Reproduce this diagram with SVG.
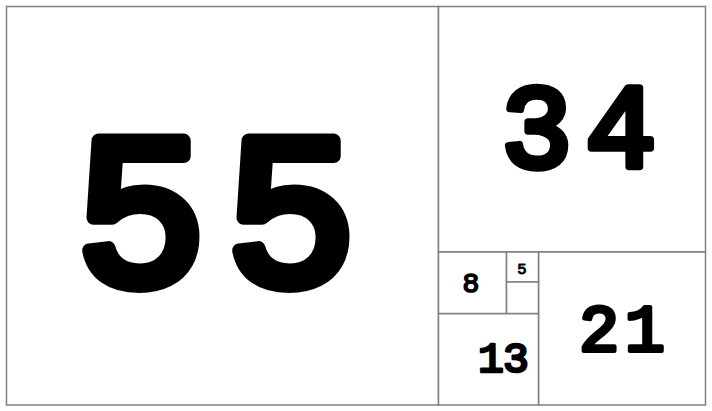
<svg xmlns="http://www.w3.org/2000/svg" width="712" height="411" viewBox="0 0 712 411">
<style>
.box{fill:#fff;stroke:#808080;stroke-width:1.5}
.num{font-family:"Liberation Mono",monospace;font-weight:normal;fill:#000;stroke:#000;stroke-linejoin:round;stroke-linecap:round;text-anchor:middle}
</style>
<rect x="0" y="0" width="712" height="411" fill="#fff"/>
<g id="n55"><rect class="box" x="6.5" y="6.5" width="432" height="398.5"/>
<text class="num" x="141 291" y="284" font-size="218" stroke-width="14">55</text></g>
<g id="n34"><rect class="box" x="438.5" y="6.5" width="267" height="245.5"/>
<text class="num" x="536.7 620.8" y="167" font-size="118" stroke-width="7.5">34</text></g>
<g id="n21"><rect class="box" x="538.5" y="252" width="167" height="153"/>
<text class="num" x="599.2 644.8" y="351" font-size="67" stroke-width="4.2">21</text></g>
<g id="n13"><rect class="box" x="438.5" y="313.5" width="100" height="91.5"/>
<text class="num" x="490.8 515.8" y="371.5" font-size="43" stroke-width="2.7">13</text></g>
<g id="n8"><rect class="box" x="438.5" y="252" width="68" height="61.5"/>
<text class="num" x="471" y="291.5" font-size="28" stroke-width="1.7">8</text></g>
<g id="n5"><rect class="box" x="506.5" y="252" width="32" height="30"/>
<text class="num" x="522" y="273.8" font-size="15.5" stroke-width="1">5</text></g>
<g id="n3"><rect class="box" x="506.5" y="282" width="32" height="31.5"/></g>
</svg>
